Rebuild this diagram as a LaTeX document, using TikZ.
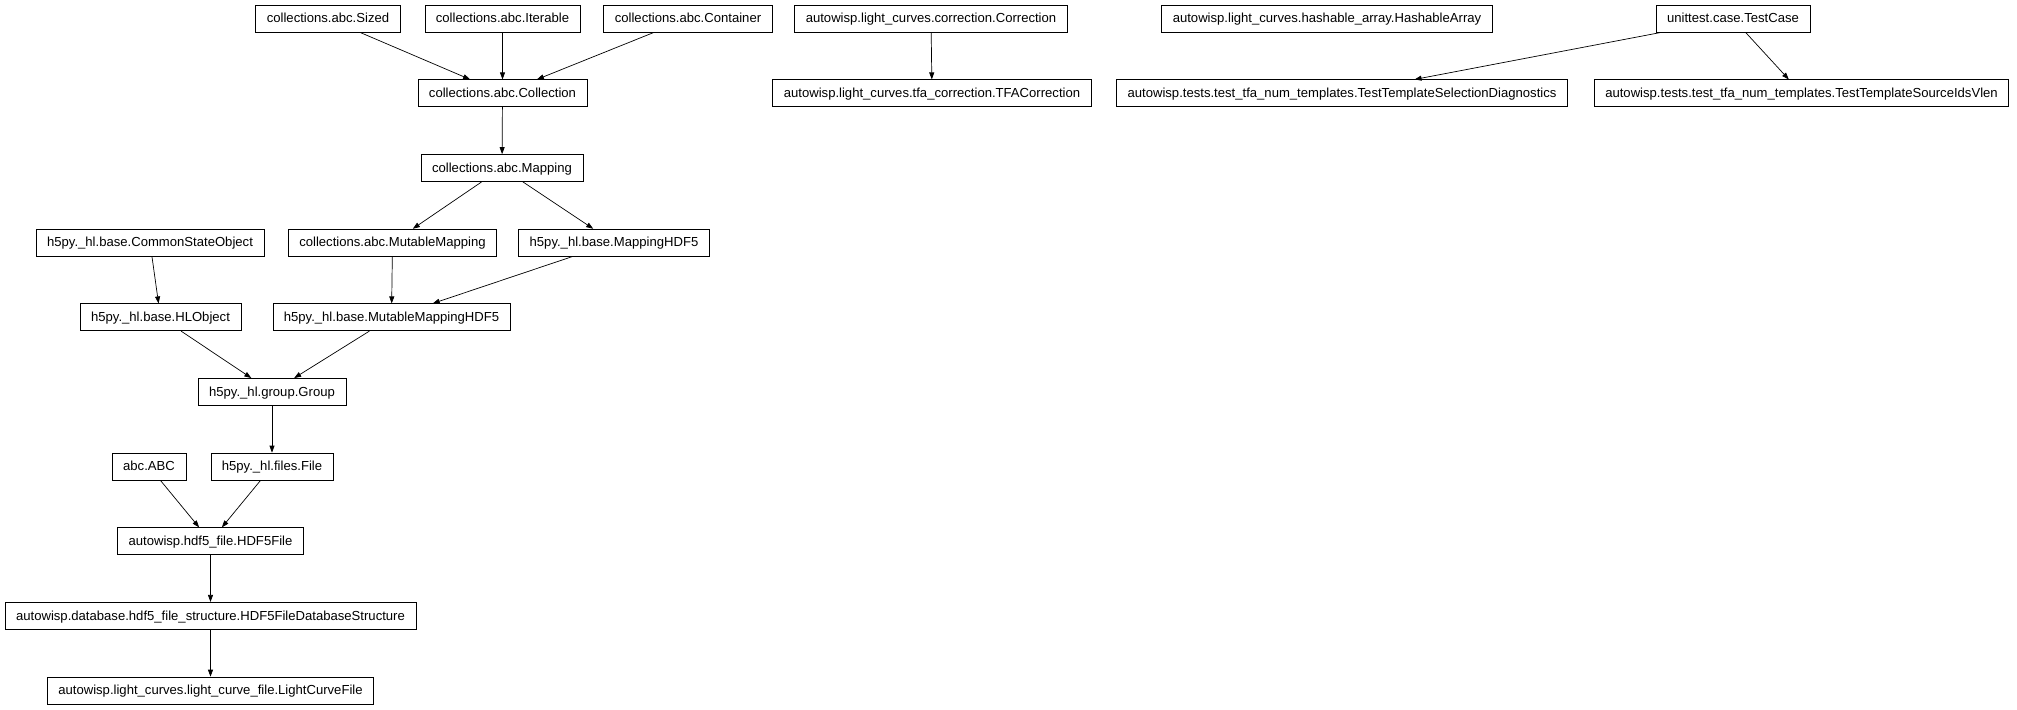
\documentclass[tikz,border=0pt]{standalone}
\usepackage{fontspec}
\setmainfont{Liberation Sans}
\usetikzlibrary{arrows.meta}
\tikzset{
  cls/.style={draw=black, line width=0.7pt, rectangle, inner xsep=11pt, inner ysep=0pt,
    minimum height=27pt, text height=10.6pt, text depth=2pt,
    font=\fontsize{13.1}{15}\selectfont},
  inh/.style={draw=black, line width=0.7pt, -{Triangle[length=7pt,width=5pt]}}
}
\begin{document}
\begin{tikzpicture}[x=1pt,y=-1pt]
\fill[white] (0,0) rectangle (2017,709);
\useasboundingbox (0,0) rectangle (2017,709);
% row 0
\node[cls] (sized) at (328,18.7) {collections.abc.Sized};
\node[cls] (iter) at (502.5,18.7) {collections.abc.Iterable};
\node[cls] (cont) at (688,18.7) {collections.abc.Container};
\node[cls] (corr) at (931,18.7) {autowisp.light\_curves.correction.Correction};
\node[cls] (hash) at (1327,18.7) {autowisp.light\_curves.hashable\_array.HashableArray};
\node[cls] (tcase) at (1733,18.7) {unittest.case.TestCase};
% row 1
\node[cls] (coll) at (502.5,93.3) {collections.abc.Collection};
\node[cls] (tfa) at (932,93.3) {autowisp.light\_curves.tfa\_correction.TFACorrection};
\node[cls] (diag) at (1342,93.3) {autowisp.tests.test\_tfa\_num\_templates.TestTemplateSelectionDiagnostics};
\node[cls] (vlen) at (1801.5,93.3) {autowisp.tests.test\_tfa\_num\_templates.TestTemplateSourceIdsVlen};
% row 2
\node[cls] (map) at (502,168.0) {collections.abc.Mapping};
% row 3
\node[cls] (cso) at (150,242.6) {h5py.\_hl.base.CommonStateObject};
\node[cls] (mmap) at (392.5,242.6) {collections.abc.MutableMapping};
\node[cls] (maph) at (614,242.6) {h5py.\_hl.base.MappingHDF5};
% row 4
\node[cls] (hlo) at (160.5,317.3) {h5py.\_hl.base.HLObject};
\node[cls] (mmaph) at (391.5,317.3) {h5py.\_hl.base.MutableMappingHDF5};
% row 5
\node[cls] (group) at (272,391.9) {h5py.\_hl.group.Group};
% row 6
\node[cls] (abc) at (149,466.5) {abc.ABC};
\node[cls] (file) at (272,466.5) {h5py.\_hl.files.File};
% row 7
\node[cls] (hdf) at (210.5,541.2) {autowisp.hdf5\_file.HDF5File};
% row 8
\node[cls] (dbs) at (210.5,615.8) {autowisp.database.hdf5\_file\_structure.HDF5FileDatabaseStructure};
% row 9
\node[cls] (lcf) at (210.5,690.5) {autowisp.light\_curves.light\_curve\_file.LightCurveFile};
% edges
\draw[inh] (sized) -- (coll);
\draw[inh] (iter) -- (coll);
\draw[inh] (cont) -- (coll);
\draw[inh] (coll) -- (map);
\draw[inh] (map) -- (mmap);
\draw[inh] (map) -- (maph);
\draw[inh] (cso) -- (hlo);
\draw[inh] (mmap) -- (mmaph);
\draw[inh] (maph) -- (mmaph);
\draw[inh] (hlo) -- (group);
\draw[inh] (mmaph) -- (group);
\draw[inh] (group) -- (file);
\draw[inh] (abc) -- (hdf);
\draw[inh] (file) -- (hdf);
\draw[inh] (hdf) -- (dbs);
\draw[inh] (dbs) -- (lcf);
\draw[inh] (corr) -- (tfa);
\draw[inh] (tcase) -- (diag);
\draw[inh] (tcase) -- (vlen);
\end{tikzpicture}
\end{document}
